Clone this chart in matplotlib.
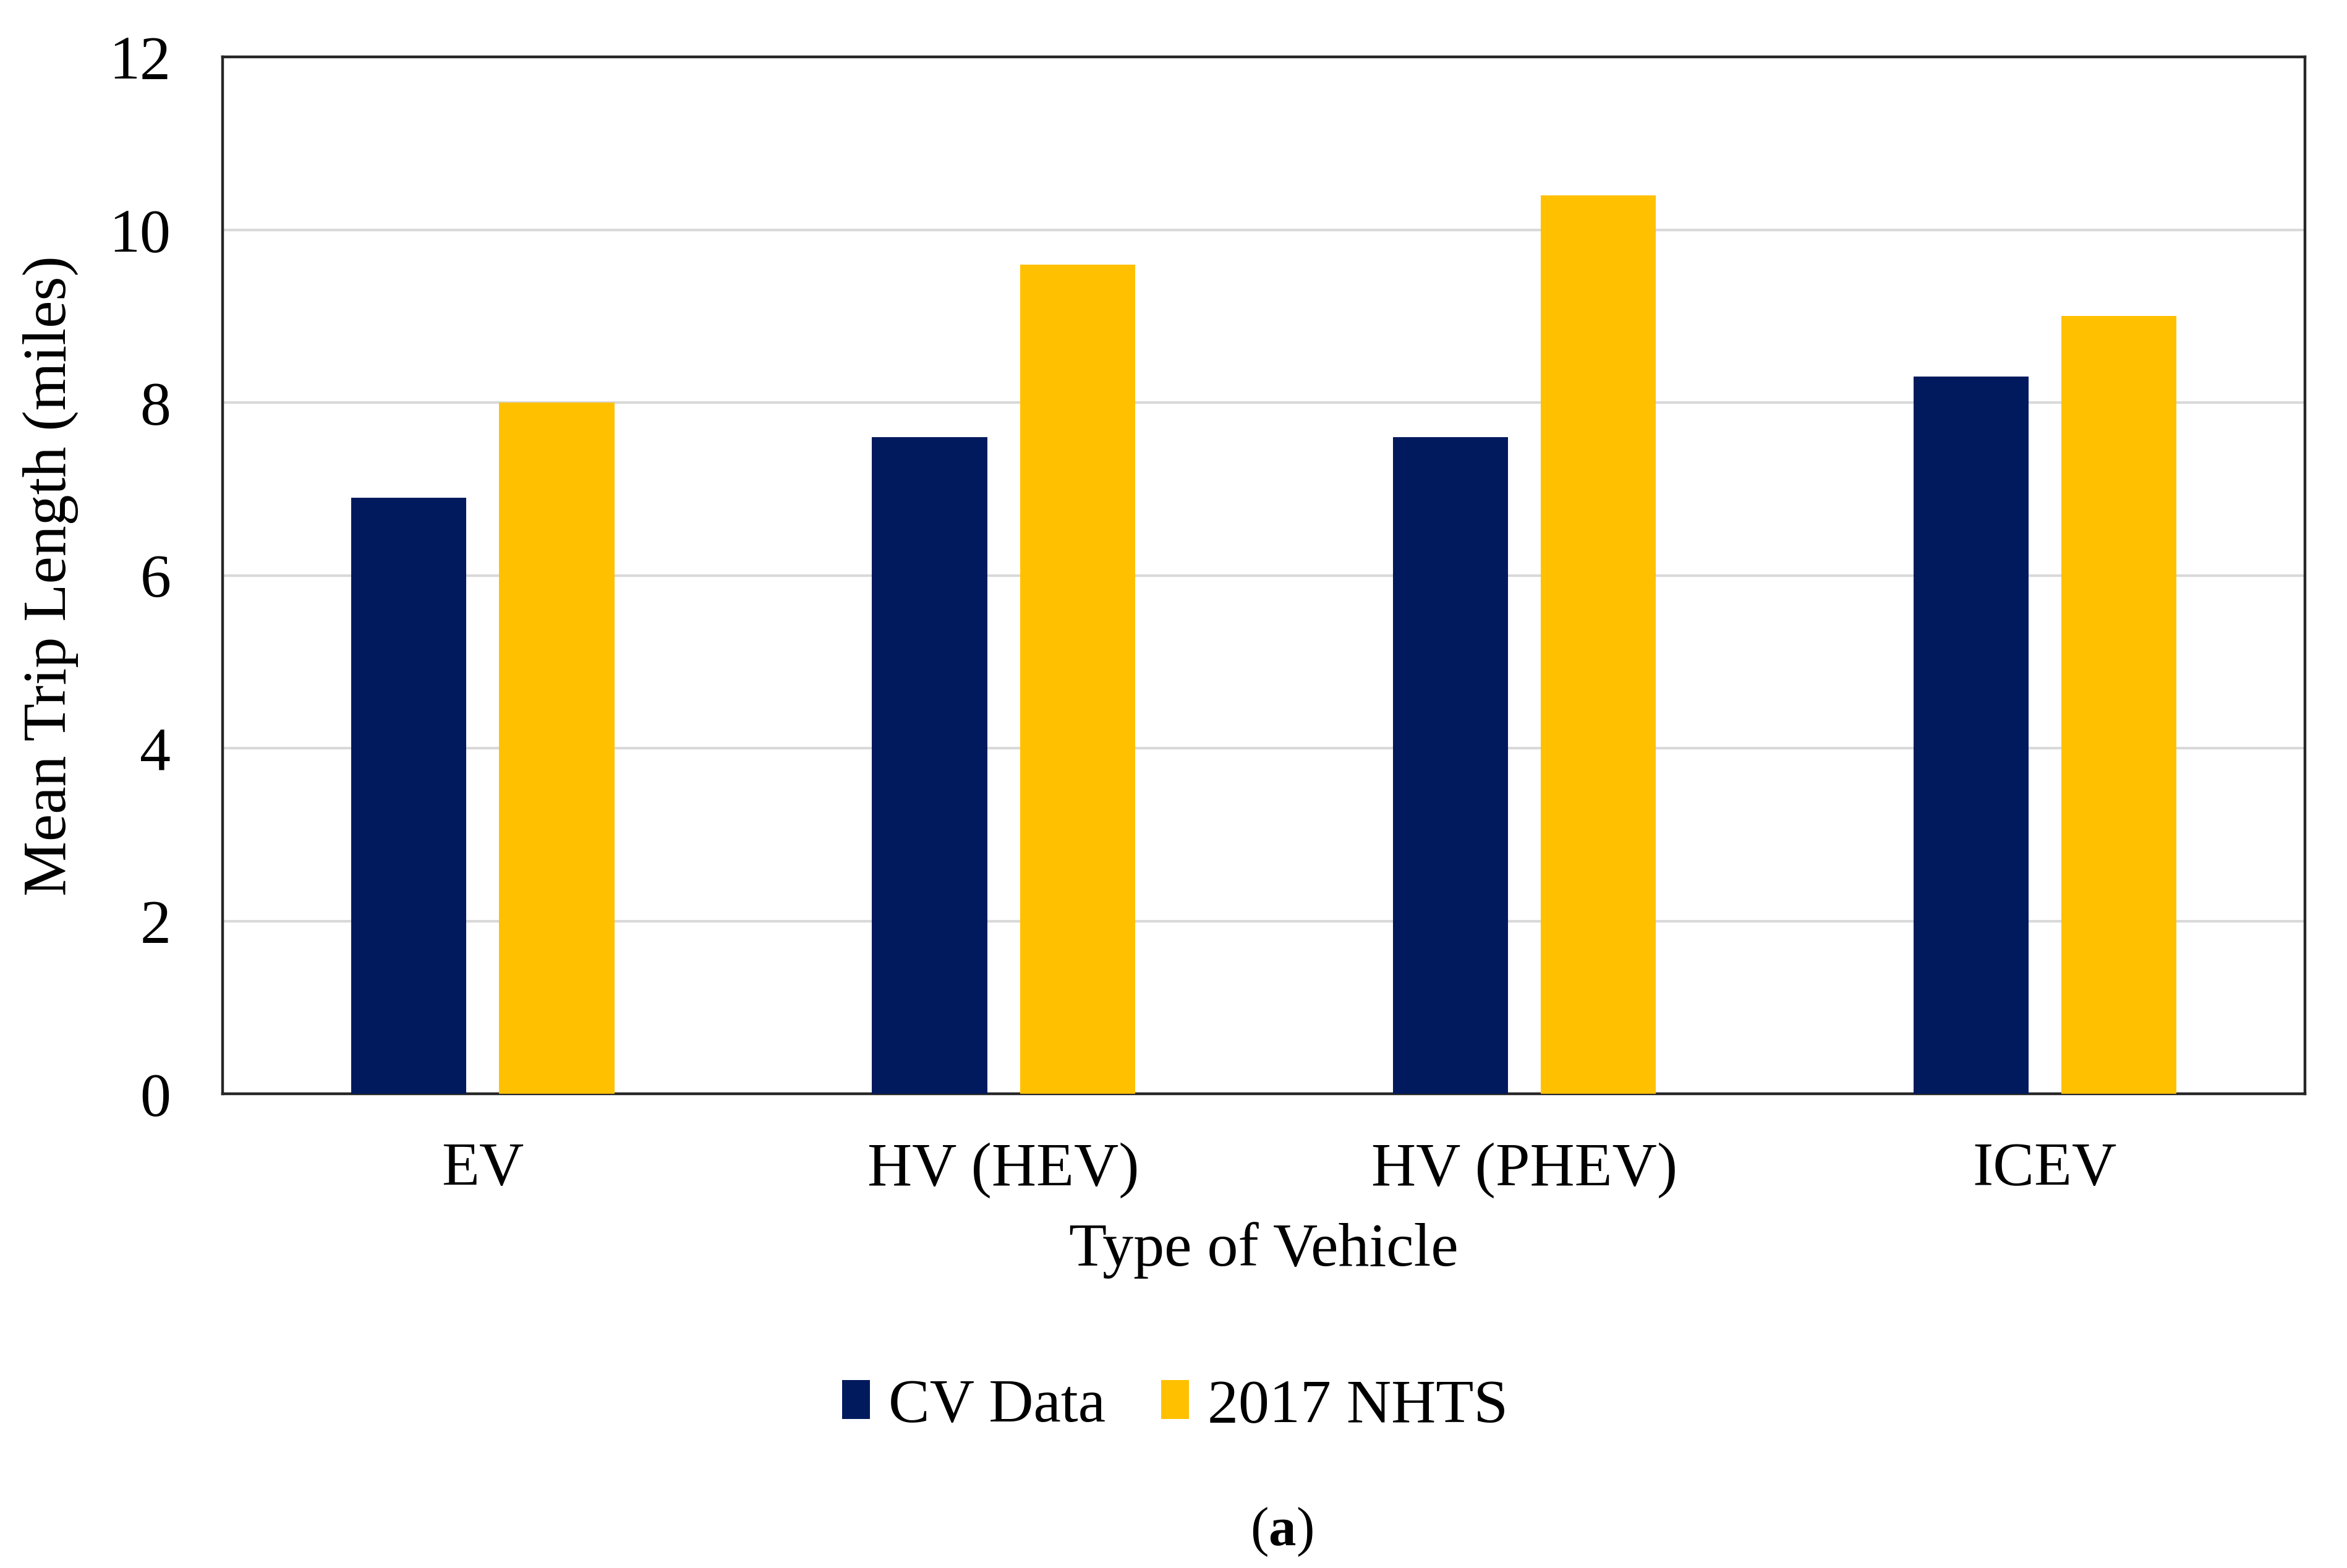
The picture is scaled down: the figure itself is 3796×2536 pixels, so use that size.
import matplotlib
matplotlib.use("Agg")
import matplotlib.pyplot as plt
import numpy as np

# values
categories = ["EV", "HV (HEV)", "HV (PHEV)", "ICEV"]
cv_data = [6.9, 7.6, 7.6, 8.3]
nhts_2017 = [8.0, 9.6, 10.4, 9.0]
series_names = ["CV Data", "2017 NHTS"]
y_ticks = [0, 2, 4, 6, 8, 10, 12]

navy = "#011A5E"
gold = "#FFC000"

plt.rcParams["font.family"] = ["Liberation Serif", "DejaVu Serif"]
plt.rcParams["mathtext.fontset"] = "custom"
plt.rcParams["mathtext.rm"] = "Liberation Serif"
plt.rcParams["mathtext.bf"] = "Liberation Serif:bold"

fig = plt.figure(figsize=(18.98, 12.68), dpi=200)
ax = fig.add_axes([0.0948, 0.3023, 0.8874, 0.6614])

x = np.arange(len(categories))
width = 0.221
offset = 0.142
ax.bar(x - offset, cv_data, width, color=navy, label=series_names[0], zorder=3)
ax.bar(x + offset, nhts_2017, width, color=gold, label=series_names[1], zorder=3)

ax.set_xlim(-0.5, len(categories) - 0.5)
ax.set_ylim(0, 12)
ax.set_yticks(y_ticks)
ax.set_xticks(x)
ax.set_xticklabels(categories)
ax.tick_params(axis="both", length=0, labelsize=36)
ax.tick_params(axis="x", pad=28)
ax.tick_params(axis="y", pad=30)
ax.yaxis.grid(True, color="#D9D9D9", linewidth=1.5, zorder=0)
ax.set_axisbelow(True)
for side in ["top", "right", "left", "bottom"]:
    ax.spines[side].set_color("#262626")
    ax.spines[side].set_linewidth(1.6)

ax.set_ylabel("Mean Trip Length (miles)", fontsize=36, labelpad=18)
ax.set_xlabel("Type of Vehicle", fontsize=36, labelpad=14)

fig.legend(loc="center", bbox_to_anchor=(0.5006, 0.103), ncol=2, frameon=False,
           fontsize=36, handlelength=0.45, handleheight=0.6, handletextpad=0.3,
           columnspacing=0.9)

# panel caption with bold letter
fig.text(0.546, 0.023, r"($\mathbf{a}$)", fontsize=32, ha="center", va="center")

fig.savefig("out.png", dpi=200, facecolor="white")
